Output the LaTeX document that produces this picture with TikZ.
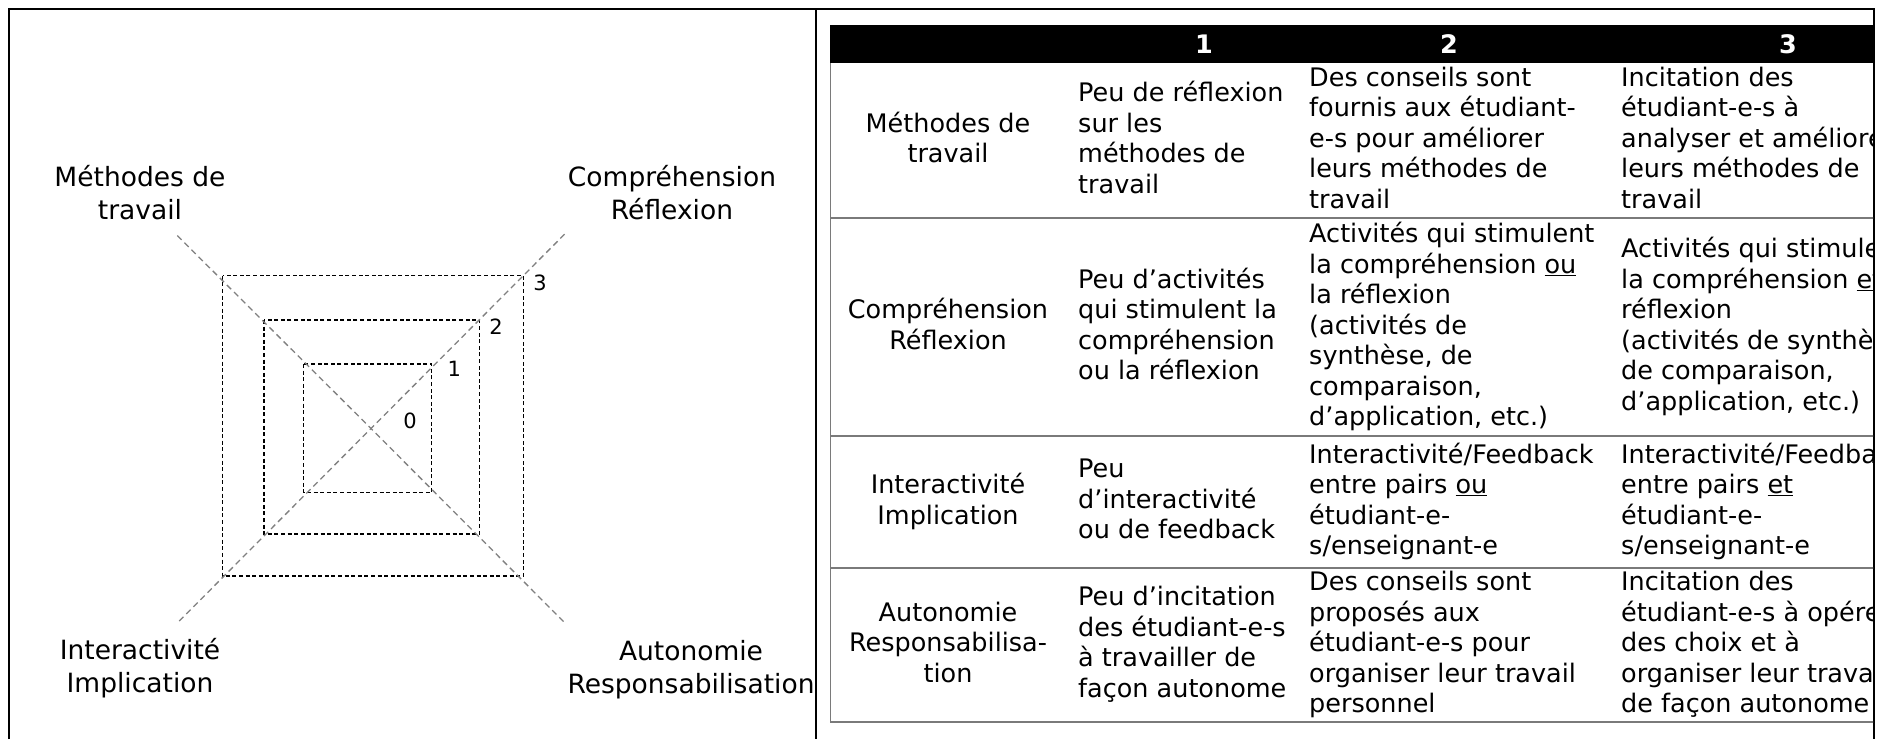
\documentclass[tikz,border=0pt]{standalone}
\usepackage{fontspec}
\setmainfont{DejaVu Sans}
\newcommand\tS{\rule[-6.1pt]{0pt}{30.5pt}}
\newcommand\lS{\rule[-6.6pt]{0pt}{33pt}}
\begin{document}
\begin{tikzpicture}[x=1pt,y=-1pt,
  sqbox/.style={black, line width=1.1pt, dash pattern=on 4pt off 2.6pt},
  diag/.style={color=black!50, line width=1.3pt, dash pattern=on 6pt off 4pt},
  lbl/.style={font=\fontsize{26.5}{33}\selectfont, align=center, inner sep=0pt,
    execute at begin node=\lS, execute at end node=\lS},
  num/.style={font=\fontsize{21}{25}\selectfont, inner sep=0pt},
  cellL/.style={font=\fontsize{25.5}{30.5}\selectfont, align=left, inner sep=0pt, anchor=west,
    execute at begin node=\tS, execute at end node=\tS},
  cellC/.style={font=\fontsize{25.5}{30.5}\selectfont, align=center, inner sep=0pt,
    execute at begin node=\tS, execute at end node=\tS},
  hdr/.style={font=\fontsize{25.5}{30.5}\selectfont\bfseries, text=white, inner sep=0pt},
  framer/.style={line width=2pt, black},
  rowrule/.style={line width=1.5pt, color=black!52}]
\useasboundingbox (0,0) rectangle (1881,739);
\fill[white] (0,0) rectangle (1881,739);

% frame
\draw[framer] (9,739) -- (9,9) -- (1874,9) -- (1874,739);
\draw[framer] (816,9) -- (816,739);

% ---------- left diagram ----------
\coordinate (c) at (371,428.5);
\coordinate (tl) at (177.3,235.6);
\coordinate (br) at (564.1,622.1);
\coordinate (tr) at (564.6,234.2);
\coordinate (bl) at (178.2,622.1);
\draw[sqbox] (222.5,275.7) rectangle (523.5,576);
\draw[sqbox] (264,320) rectangle (479.5,534);
\draw[sqbox] (303.5,364) rectangle (431.5,492.5);
\draw[diag] (tl) -- (c) -- (br);
\draw[diag] (tr) -- (c) -- (bl);

\node[num] (n3) at (540,282.7) {3};
\node[num] (n2) at (496,326.7) {2};
\node[num] (n1) at (454.3,369.3) {1};
\node[num] (n0) at (410,421) {0};

\node[lbl] (lm) at (140,196) {Méthodes de\\travail};
\node[lbl] (lc) at (672,196) {Compréhension\\Réflexion};
\node[lbl] (li) at (140,669) {Interactivité\\Implication};
\node[lbl] (la) at (691,670) {Autonomie\\Responsabilisation};

% ---------- table ----------
\begin{scope}
\clip (830,0) rectangle (1873,739);
\fill[black] (830,25) rectangle (1874,63);
\node[hdr] (h1) at (1204,44) {1};
\node[hdr] (h2) at (1449,44) {2};
\node[hdr] (h3) at (1788,44) {3};

\draw[rowrule] (830,63) -- (830,722);
\draw[rowrule] (830,218) -- (1874,218);
\draw[rowrule] (830,436) -- (1874,436);
\draw[rowrule] (830,568) -- (1874,568);
\draw[rowrule] (830,722) -- (1874,722);

% row 1
\node[cellC] (r1c0) at (948,140.5) {Méthodes de\\travail};
\node[cellL] (r1c1) at (1078,140.5) {Peu de réflexion\\sur les\\méthodes de\\travail};
\node[cellL] (r1c2) at (1309,140.5) {Des conseils sont\\fournis aux étudiant-\\e-s pour améliorer\\leurs méthodes de\\travail};
\node[cellL] (r1c3) at (1621,140.5) {Incitation des\\étudiant-e-s à\\analyser et améliorer\\leurs méthodes de\\travail};

% row 2
\node[cellC] (r2c0) at (948,327) {Compréhension\\Réflexion};
\node[cellL] (r2c1) at (1078,327) {Peu d’activités\\qui stimulent la\\compréhension\\ou la réflexion};
\node[cellL] (r2c2) at (1309,327) {Activités qui stimulent\\la compréhension \underline{ou}\\la réflexion\\(activités de\\synthèse, de\\comparaison,\\d’application, etc.)};
\node[cellL] (r2c3) at (1621,327) {Activités qui stimulent\\la compréhension \underline{et} la\\réflexion\\(activités de synthèse,\\de comparaison,\\d’application, etc.)};

% row 3
\node[cellC] (r3c0) at (948,502) {Interactivité\\Implication};
\node[cellL] (r3c1) at (1078,502) {Peu\\d’interactivité\\ou de feedback};
\node[cellL] (r3c2) at (1309,502) {Interactivité/Feedback\\entre pairs \underline{ou}\\étudiant-e-\\s/enseignant-e};
\node[cellL] (r3c3) at (1621,502) {Interactivité/Feedback\\entre pairs \underline{et}\\étudiant-e-\\s/enseignant-e};

% row 4
\node[cellC] (r4c0) at (948,645) {Autonomie\\Responsabilisa-\\tion};
\node[cellL] (r4c1) at (1078,645) {Peu d’incitation\\des étudiant-e-s\\à travailler de\\façon autonome};
\node[cellL] (r4c2) at (1309,645) {Des conseils sont\\proposés aux\\étudiant-e-s pour\\organiser leur travail\\personnel};
\node[cellL] (r4c3) at (1621,645) {Incitation des\\étudiant-e-s à opérer\\des choix et à\\organiser leur travail\\de façon autonome};
\end{scope}
\end{tikzpicture}
\end{document}
